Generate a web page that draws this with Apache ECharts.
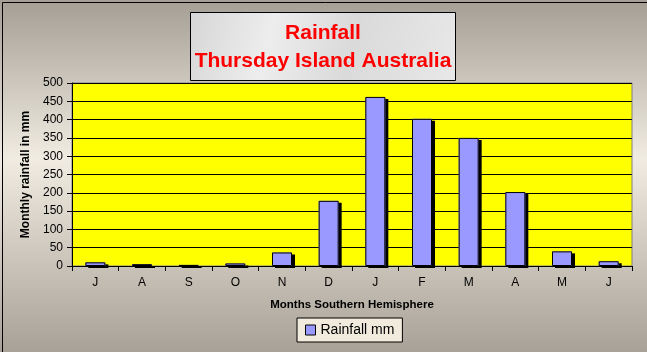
<!DOCTYPE html>
<html>
<head>
<meta charset="utf-8">
<script src="https://cdn.jsdelivr.net/npm/echarts@6/dist/echarts.min.js"></script>
<style>
    html, body { margin: 0; padding: 0; }
    #main { width: 647px; height: 352px; }
</style>
</head>
<body>
<div id="main"></div>
<script>
    var months = ['J', 'A', 'S', 'O', 'N', 'D', 'J', 'F', 'M', 'A', 'M', 'J'];
    var rainfall = [10, 5, 3, 7, 37, 178, 462, 402, 350, 202, 40, 13];
    var yTicks = [0, 500, 50];

    var font = 'Arial, "Liberation Sans", sans-serif';
    var myChart = echarts.init(document.getElementById('main'));

    var option = {
        animation: false,
        backgroundColor: new echarts.graphic.LinearGradient(0, 0, 0, 1, [
            { offset: 0, color: '#a49e94' },
            { offset: 0.45, color: '#f1ece1' },
            { offset: 1, color: '#a8a197' }
        ]),
        graphic: [
            {
                type: 'rect', left: 0, top: 0,
                shape: { width: 646, height: 351 },
                style: { fill: null, stroke: '#000', lineWidth: 1 }
            },
            {
                type: 'rect', left: 190, top: 12,
                shape: { width: 265, height: 68 },
                style: {
                    fill: new echarts.graphic.LinearGradient(0, 0, 1, 1, [
                        { offset: 0, color: '#d6d6d6' },
                        { offset: 0.3, color: '#ededed' },
                        { offset: 0.6, color: '#dadada' },
                        { offset: 1, color: '#e8e8e8' }
                    ]),
                    stroke: '#000', lineWidth: 1
                }
            },
            {
                type: 'text', x: 323, y: 19,
                style: {
                    text: 'Rainfall\nThursday Island Australia',
                    fill: '#ff0000', align: 'center',
                    font: 'bold 21px ' + font,
                    lineHeight: 28
                }
            }
        ],
        legend: {
            data: ['Rainfall mm'],
            left: 297, top: 318,
            itemWidth: 10, itemHeight: 10,
            padding: [5, 8, 5, 8],
            backgroundColor: '#f1ebdd',
            borderColor: '#000', borderWidth: 1, borderRadius: 0,
            textStyle: { color: '#000', fontSize: 14, fontFamily: font },
            itemStyle: { borderColor: '#000', borderWidth: 1, shadowColor: 'transparent' },
            icon: 'rect'
        },
        grid: {
            left: 72, right: 15, top: 83, bottom: 86,
            show: true, backgroundColor: '#ffff00', borderColor: '#808080', borderWidth: 1
        },
        xAxis: {
            type: 'category',
            data: months,
            name: 'Months Southern Hemisphere',
            nameLocation: 'middle', nameGap: 33,
            nameTextStyle: { fontWeight: 'bold', fontSize: 11.5, color: '#000', fontFamily: font },
            axisLine: { lineStyle: { color: '#000' } },
            axisTick: { show: true, length: 5, lineStyle: { color: '#000' } },
            axisLabel: { color: '#000', fontSize: 12, margin: 11, fontFamily: font }
        },
        yAxis: {
            type: 'value',
            min: yTicks[0], max: yTicks[1], interval: yTicks[2],
            name: 'Monthly rainfall in mm',
            nameLocation: 'middle', nameGap: 40,
            nameTextStyle: { fontWeight: 'bold', fontSize: 12, color: '#000', fontFamily: font },
            axisLine: { show: true, lineStyle: { color: '#000' } },
            axisTick: { show: true, length: 5, lineStyle: { color: '#000' } },
            axisLabel: { color: '#000', fontSize: 12, margin: 9, fontFamily: font },
            splitLine: { show: true, lineStyle: { color: '#000', width: 1 } }
        },
        series: [
            {
                name: 'Rainfall mm',
                type: 'bar',
                data: rainfall,
                barWidth: 20,
                itemStyle: {
                    color: '#9999ff',
                    shadowColor: '#000', shadowBlur: 0,
                    shadowOffsetX: 3, shadowOffsetY: 2
                }
            },
            {
                name: 'outline',
                type: 'bar',
                data: rainfall,
                barWidth: 20,
                barGap: '-100%',
                silent: true,
                itemStyle: { color: 'transparent', borderColor: '#000', borderWidth: 1 }
            }
        ]
    };

    myChart.setOption(option);
</script>
</body>
</html>
